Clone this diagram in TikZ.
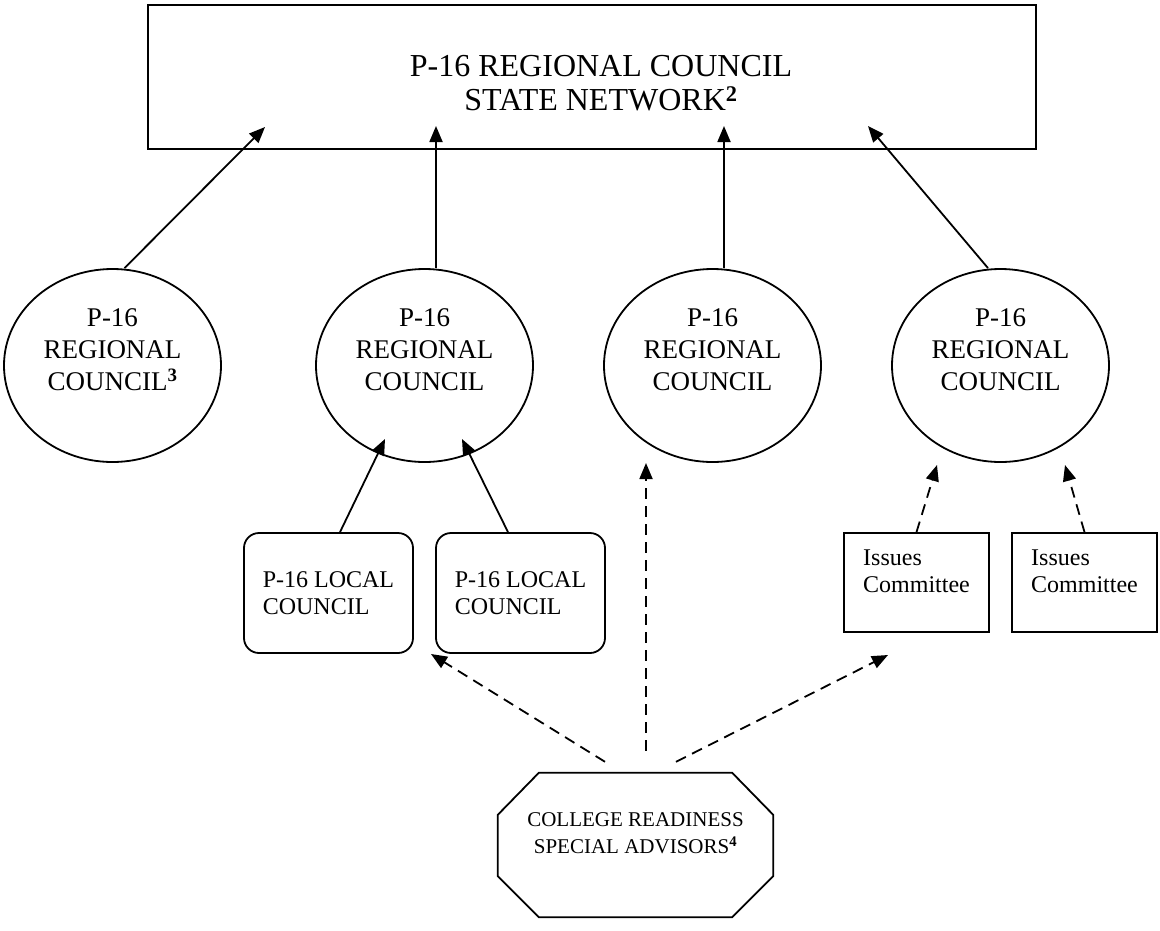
\documentclass[tikz,border=0pt]{standalone}
\usepackage{fontspec}
\setmainfont{Liberation Serif}
\usetikzlibrary{arrows.meta,calc,shapes.geometric}
\begin{document}
\begin{tikzpicture}[x=1pt,y=-1pt,
  ln/.style={line width=1.8pt},
  arr/.style={ln,-{Triangle[length=16pt,width=13pt]}},
  darr/.style={arr,dash pattern=on 11pt off 7pt},
  rc/.style={ellipse,draw,ln,minimum width=217pt,minimum height=193pt,inner sep=0pt,align=center,font=\fontsize{27}{32}\selectfont},
  lc/.style={draw,ln,rounded corners=15pt,minimum width=169pt,minimum height=120pt,inner sep=0pt,align=left,font=\fontsize{24}{27}\selectfont},
  ic/.style={draw,ln,minimum width=145pt,minimum height=99pt,inner sep=0pt,align=left,font=\fontsize{24}{27}\selectfont},
]
\useasboundingbox (0,0) rectangle (1160,930);
% top network box
\node[draw,ln,minimum width=888pt,minimum height=144pt,inner sep=0pt] (net) at (592,77) {};
\node[font=\fontsize{32}{34}\selectfont,align=center] (nettext) at (601,83.5) {P-16 REGIONAL COUNCIL\\STATE NETWORK\textsuperscript{\textbf{2}}};
% regional councils
\node[rc] (e1) at (112.5,365.5) {P-16\\REGIONAL\\COUNCIL\textsuperscript{\textbf{3}}\rule[-31pt]{0pt}{1pt}};
\node[rc] (e2) at (424.5,365.5) {P-16\\REGIONAL\\COUNCIL\rule[-31pt]{0pt}{1pt}};
\node[rc] (e3) at (712.5,365.5) {P-16\\REGIONAL\\COUNCIL\rule[-31pt]{0pt}{1pt}};
\node[rc] (e4) at (1000.5,365.5) {P-16\\REGIONAL\\COUNCIL\rule[-31pt]{0pt}{1pt}};
% local councils
\node[lc] (lc1) at (328.5,593) {P-16 LOCAL\\COUNCIL};
\node[lc] (lc2) at (520.5,593) {P-16 LOCAL\\COUNCIL};
% issues committees
\node[ic] (ic1) at (916.5,582.5) {Issues\\Committee\rule[-22pt]{0pt}{1pt}};
\node[ic] (ic2) at (1084.5,582.5) {Issues\\Committee\rule[-22pt]{0pt}{1pt}};
% college readiness octagon
\node[minimum width=275pt,minimum height=144pt,inner sep=0pt,align=center,font=\fontsize{21}{27}\selectfont] (cra) at (635.5,845) {COLLEGE READINESS\\SPECIAL ADVISORS\textsuperscript{\textbf{4}}\rule[-23pt]{0pt}{1pt}};
\draw[ln] ($(cra.north west)+(41,0)$) -- ($(cra.north east)+(-41,0)$) -- ($(cra.north east)+(0,42)$) -- ($(cra.south east)+(0,-41)$) -- ($(cra.south east)+(-41,0)$) -- ($(cra.south west)+(41,0)$) -- ($(cra.south west)+(0,-41)$) -- ($(cra.north west)+(0,42)$) -- cycle;
% arrow end points
\coordinate (t1) at (265,127);
\coordinate (t2) at (436,126);
\coordinate (t3) at (724,126);
\coordinate (t4) at (868,126);
\coordinate (l1) at (385,439);
\coordinate (l2) at (462,439);
\coordinate (i1) at (937,465);
\coordinate (i2) at (1065,465);
\coordinate (d1) at (431,654);
\coordinate (d2) at (646,463);
\coordinate (d3) at (888,655);
% solid arrows
\draw[arr] ($(e1.north)+(12,0)$) -- (t1);
\draw[arr] ($(e2.north)+(11.5,0)$) -- (t2);
\draw[arr] ($(e3.north)+(11.5,0)$) -- (t3);
\draw[arr] ($(e4.north)+(-12.5,0)$) -- (t4);
\draw[arr] ($(lc1.north)+(11.5,0)$) -- (l1);
\draw[arr] ($(lc2.north)+(-12.5,0)$) -- (l2);
% dashed arrows
\draw[darr] (ic1.north) -- (i1);
\draw[darr] (ic2.north) -- (i2);
\draw[darr] ($(cra.north)+(-30.5,-11)$) -- (d1);
\draw[darr] ($(cra.north)+(10.5,-22)$) -- (d2);
\draw[darr] ($(cra.north)+(40.5,-11)$) -- (d3);
\end{tikzpicture}
\end{document}
